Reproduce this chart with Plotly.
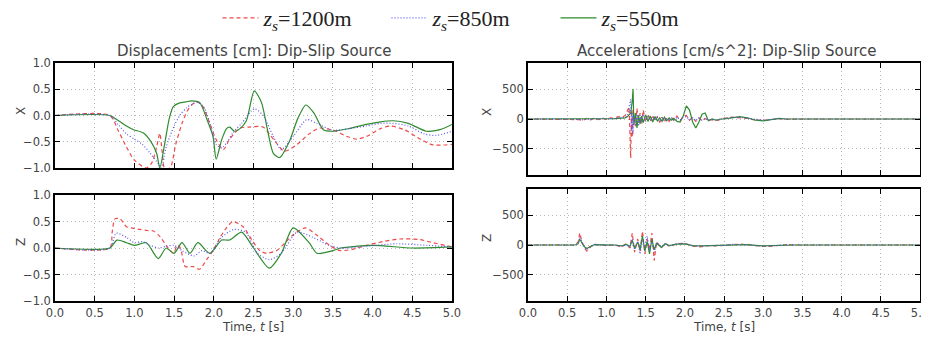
import plotly.graph_objects as go

# The page body adds an 8px offset; the figure is sized so that it fills the 929x339 view.
OFF = 8
W, H = 929 - OFF, 339 - OFF

# ---------------- data: displacements ----------------
disp_x_red_t = [0, 0.69, 0.8, 0.9, 1.0, 1.15, 1.22, 1.28, 1.32, 1.35, 1.38, 1.45, 1.52, 1.6, 1.66, 1.72, 1.78, 1.85, 1.95, 2.03, 2.12, 2.2, 2.33, 2.45, 2.62, 2.75, 2.89, 3.05, 3.2, 3.33, 3.45, 3.54, 3.68, 3.8, 3.95, 4.1, 4.22, 4.4, 4.6, 4.76, 5.0]
disp_x_red_v = [0, 0, -0.3, -0.6, -0.85, -1.0, -0.9, -0.6, -0.34, -0.7, -1.0, -1.0, -0.55, -0.15, 0.07, 0.2, 0.26, 0.2, -0.15, -0.46, -0.65, -0.45, -0.24, -0.22, -0.22, -0.45, -0.68, -0.55, -0.35, -0.24, -0.26, -0.3, -0.4, -0.45, -0.38, -0.25, -0.2, -0.27, -0.45, -0.56, -0.55]

disp_x_blue_t = [0, 0.69, 0.8, 0.9, 1.0, 1.1, 1.2, 1.3, 1.34, 1.4, 1.5, 1.58, 1.66, 1.73, 1.8, 1.88, 1.96, 2.03, 2.1, 2.17, 2.24, 2.35, 2.51, 2.62, 2.75, 2.85, 3.0, 3.17, 3.3, 3.5, 3.7, 3.92, 4.1, 4.26, 4.45, 4.65, 4.8, 5.0]
disp_x_blue_v = [0, 0, -0.18, -0.35, -0.45, -0.55, -0.72, -0.92, -1.0, -0.6, -0.2, 0.02, 0.15, 0.22, 0.25, 0.15, -0.2, -0.55, -0.62, -0.5, -0.33, -0.15, 0.13, 0.0, -0.4, -0.65, -0.4, -0.08, -0.15, -0.28, -0.25, -0.2, -0.15, -0.15, -0.2, -0.35, -0.38, -0.3]

disp_x_green_t = [0, 0.69, 0.8, 0.9, 0.99, 1.11, 1.2, 1.28, 1.32, 1.38, 1.44, 1.49, 1.57, 1.65, 1.72, 1.82, 1.92, 1.99, 2.03, 2.1, 2.16, 2.2, 2.26, 2.33, 2.41, 2.51, 2.6, 2.68, 2.75, 2.83, 2.95, 3.06, 3.16, 3.26, 3.38, 3.5, 3.7, 3.92, 4.1, 4.26, 4.45, 4.68, 4.85, 5.0]
disp_x_green_v = [0, 0, -0.1, -0.2, -0.27, -0.33, -0.48, -0.72, -1.0, -0.55, -0.05, 0.17, 0.24, 0.26, 0.28, 0.25, -0.1, -0.4, -0.83, -0.46, -0.25, -0.22, -0.3, -0.25, -0.1, 0.47, 0.25, -0.3, -0.72, -0.8, -0.5, -0.05, 0.2, 0.05, -0.27, -0.3, -0.25, -0.17, -0.12, -0.1, -0.15, -0.3, -0.27, -0.17]

disp_z_red_t = [0, 0.69, 0.72, 0.755, 0.82, 0.9, 1.0, 1.07, 1.16, 1.24, 1.32, 1.41, 1.49, 1.54, 1.58, 1.64, 1.74, 1.82, 1.91, 1.99, 2.08, 2.16, 2.24, 2.37, 2.48, 2.58, 2.66, 2.79, 2.9, 3.0, 3.15, 3.29, 3.46, 3.59, 3.76, 3.92, 4.13, 4.34, 4.59, 4.76, 5.0]
disp_z_red_v = [0, 0, 0.3, 0.55, 0.55, 0.4, 0.37, 0.35, 0.33, 0.32, 0.22, 0.03, -0.1, 0.05, 0.0, -0.35, -0.35, -0.4, -0.22, -0.05, 0.2, 0.38, 0.5, 0.4, 0.15, -0.05, -0.1, -0.05, 0.1, 0.25, 0.38, 0.25, 0.05, -0.05, -0.02, 0.05, 0.12, 0.17, 0.16, 0.1, 0.02]

disp_z_blue_t = [0, 0.69, 0.77, 0.9, 1.0, 1.1, 1.2, 1.3, 1.4, 1.5, 1.6, 1.75, 1.85, 1.95, 2.1, 2.25, 2.4, 2.55, 2.7, 2.85, 3.05, 3.25, 3.45, 3.6, 3.9, 4.3, 4.7, 5.0]
disp_z_blue_v = [0, 0, 0.28, 0.2, 0.1, 0.12, 0.05, 0.0, 0.03, 0.05, -0.05, -0.15, -0.05, -0.1, 0.2, 0.35, 0.3, -0.1, -0.22, -0.1, 0.3, 0.2, 0.05, 0.0, 0.03, 0.08, 0.05, 0.02]

disp_z_green_t = [0, 0.69, 0.78, 0.9, 1.0, 1.15, 1.3, 1.4, 1.5, 1.6, 1.7, 1.8, 1.95, 2.1, 2.2, 2.35, 2.5, 2.7, 2.85, 3.0, 3.2, 3.3, 3.5, 3.6, 4.0, 4.5, 5.0]
disp_z_green_v = [0, 0, 0.15, 0.1, 0.05, 0.1, -0.2, 0.0, -0.1, 0.1, -0.1, 0.1, -0.1, 0.15, 0.15, 0.3, 0.0, -0.38, -0.1, 0.38, 0.1, -0.1, -0.05, 0.0, 0.05, 0.0, 0.02]

# ---------------- data: accelerations ----------------
acc_x_t = [0, 0.6, 0.65, 0.7, 0.75, 0.8, 0.85, 0.9, 0.95, 1.0, 1.05, 1.1, 1.15, 1.2, 1.24, 1.27, 1.29, 1.31, 1.32, 1.33, 1.34, 1.35, 1.37, 1.39, 1.41, 1.43, 1.45, 1.47, 1.5, 1.53, 1.56, 1.59, 1.62, 1.65, 1.68, 1.71, 1.74, 1.77, 1.8, 1.83, 1.86, 1.9, 1.94, 1.98, 2.02, 2.06, 2.1, 2.14, 2.18, 2.22, 2.26, 2.3, 2.35, 2.4, 2.45, 2.5, 2.6, 2.7, 2.8, 2.9, 3.0, 3.1, 3.2, 3.3, 3.4, 3.5, 5.0]
acc_x_red = [0, 0, -10, -25, 10, -15, 20, -10, 15, -5, 20, 10, 40, 30, 60, 150, 200, -650, 150, -300, 180, 60, -120, 180, -60, 100, -80, 150, -50, 80, -40, 60, -30, 40, -60, 30, -50, 20, -40, 30, -20, 50, -30, 40, 60, -20, 30, -40, 20, -30, 10, -20, -10, -30, -10, 10, 30, 25, 10, -15, -25, -10, 5, -5, 0, 0, 0]
acc_x_blue = [0, 0, -5, -15, 5, -10, 10, -5, 10, -5, 10, 5, 20, 15, 40, 50, 200, 330, -200, 100, -250, 50, -100, 80, -120, 60, -60, 80, -40, 50, -30, 40, -20, 30, -40, 20, -30, 15, -30, 20, -15, 30, -20, 30, 40, -15, 20, -30, 15, -20, 10, -15, -10, -20, -10, 10, 25, 30, 10, -10, -20, -10, 5, 0, 0, 0, 0]
acc_x_green = [0, 0, 0, -5, 5, -5, 5, -5, 5, 0, 5, 5, 10, 10, 20, 40, 80, 100, 200, 300, 500, -100, 100, -150, 60, -80, 50, -60, 70, -40, 50, -50, 40, -30, 20, -40, 30, -30, 20, -20, 10, -40, -50, 50, 220, 150, -50, -150, -50, 80, 100, -30, 0, -20, 0, 0, 20, 40, 20, -20, -30, -10, 10, 0, 0, 0, 0]

acc_z_t = [0, 0.6, 0.64, 0.66, 0.69, 0.72, 0.75, 0.8, 0.85, 0.9, 1.0, 1.1, 1.2, 1.25, 1.3, 1.33, 1.36, 1.4, 1.43, 1.46, 1.49, 1.52, 1.55, 1.58, 1.61, 1.64, 1.7, 1.75, 1.8, 1.9, 2.0, 2.1, 2.2, 2.3, 2.4, 2.5, 2.6, 2.7, 2.8, 2.9, 3.0, 3.1, 3.2, 3.3, 3.4, 5.0]
acc_z_red = [0, 0, 50, 200, 50, -50, -100, -30, 10, 0, -10, 0, -30, 20, -50, 200, -120, 100, -100, 230, -150, 100, -80, 200, -260, 50, -50, 30, -20, 20, 30, -20, -30, -10, -15, -5, 10, 15, 5, -10, -25, -20, -5, 5, 0, 0]
acc_z_blue = [0, 0, 30, 130, 40, -40, -80, -20, 10, 5, -5, 0, -20, 10, -30, 100, -80, 60, -150, 100, -60, 150, -100, 80, -120, 40, -30, 20, -15, 20, 25, -15, -20, -10, -10, -5, 10, 10, 5, -10, -20, -15, -5, 5, 0, 0]
acc_z_green = [0, 0, 20, 100, 30, -30, -60, -20, 5, 5, -5, 0, -15, 10, -20, 80, -60, 50, -80, 150, -100, 60, -150, 100, -80, 30, -40, 20, -10, 15, 20, -10, -15, -10, -10, -5, 5, 10, 5, -5, -15, -10, -5, 0, 0, 0]

labels = ["<i>z</i><sub><i>s</i></sub>=1200m", "<i>z</i><sub><i>s</i></sub>=850m", "<i>z</i><sub><i>s</i></sub>=550m"]
colors = ["#f04848", "#5858f0", "#2e8b2e"]
dashes = ["4px,3px", "1px,2px", "solid"]

x_ticks = [0.0, 0.5, 1.0, 1.5, 2.0, 2.5, 3.0, 3.5, 4.0, 4.5, 5.0]

fig = go.Figure()

panels = [
    ("x", "y", [(disp_x_red_t, disp_x_red_v), (disp_x_blue_t, disp_x_blue_v), (disp_x_green_t, disp_x_green_v)], True),
    ("x2", "y2", [(disp_z_red_t, disp_z_red_v), (disp_z_blue_t, disp_z_blue_v), (disp_z_green_t, disp_z_green_v)], True),
    ("x3", "y3", [(acc_x_t, acc_x_red), (acc_x_t, acc_x_blue), (acc_x_t, acc_x_green)], False),
    ("x4", "y4", [(acc_z_t, acc_z_red), (acc_z_t, acc_z_blue), (acc_z_t, acc_z_green)], False),
]

draw_order = [0, 2, 1]
for pi, (xa, ya, series, smooth) in enumerate(panels):
    for si in draw_order:
        t, v = series[si]
        assert len(t) == len(v), (pi, si, len(t), len(v))
        line = dict(color=colors[si], dash=dashes[si], width=1.2)
        if smooth:
            line.update(shape="spline", smoothing=0.7)
        fig.add_trace(go.Scatter(
            x=t, y=v, mode="lines", xaxis=xa, yaxis=ya, line=line,
            name=labels[si], showlegend=(pi == 0), legendrank=si + 1,
        ))

# reference pixel coordinates (screen) -> figure coordinates
# plot area in screen pixels: x 55..920, y 63..301
S_L, S_R, S_T, S_B = 55, 920, 63, 301
ML, MT = S_L - OFF, S_T - OFF
MR, MB = W - (S_R - OFF), H - (S_B - OFF)
PW, PH = W - ML - MR, H - MT - MB

def fx(px):
    return (px - OFF - ML) / PW

def fy(py):
    return (H - MB - (py - OFF)) / PH

def px_x(a, b):
    return [max(0.0, fx(a)), min(1.0, fx(b))]

def px_y(top, bottom):
    return [max(0.0, fy(bottom)), min(1.0, fy(top))]

tickfont = dict(family="DejaVu Sans", size=11.5, color="#444444")

def common():
    return dict(ticks="inside", ticklen=5, tickcolor="black", showline=True, linecolor="black",
                linewidth=1.5, mirror="ticks", showgrid=True, gridcolor="#b8b8b8", griddash="1px,3px",
                gridwidth=1, zeroline=False, tickfont=tickfont, automargin=False,
                ticklabeloverflow="allow")

def xaxis(dom, anchor, labels_on):
    d = dict(domain=dom, anchor=anchor, range=[0, 5], tickvals=x_ticks,
             ticktext=[f"{v:.1f}" for v in x_ticks], showticklabels=labels_on)
    d.update(common())
    return d

def yaxis(dom, anchor, rng, vals, fmt):
    d = dict(domain=dom, anchor=anchor, range=rng, tickvals=vals,
             ticktext=[fmt(v) for v in vals])
    d.update(common())
    return d

def fmt1(v):
    s = f"{abs(v):.1f}"
    return ("\u2212" + s) if v < 0 else s

def fmt0(v):
    s = f"{abs(v):d}"
    return ("\u2212" + s) if v < 0 else s

disp_ticks = [-1.0, -0.5, 0.0, 0.5, 1.0]
acc_ticks = [-500, 0, 500]

fig.update_layout(
    width=W, height=H, margin=dict(l=ML, r=MR, t=MT, b=MB, pad=0),
    paper_bgcolor="white", plot_bgcolor="white",
    xaxis=xaxis(px_x(55, 452), "y", False),
    yaxis=yaxis(px_y(63, 168), "x", [-1, 1], disp_ticks, fmt1),
    xaxis2=xaxis(px_x(55, 452), "y2", True),
    yaxis2=yaxis(px_y(195, 301), "x2", [-1, 1], disp_ticks, fmt1),
    xaxis3=xaxis(px_x(528, 920), "y3", False),
    yaxis3=yaxis(px_y(63, 175), "x3", [-935, 935], acc_ticks, fmt0),
    xaxis4=xaxis(px_x(528, 920), "y4", True),
    yaxis4=yaxis(px_y(189, 301), "x4", [-935, 935], acc_ticks, fmt0),
    showlegend=True,
    legend=dict(orientation="h", xref="container", yref="container",
                x=(471 - OFF) / W, xanchor="center", y=1 - (18 - OFF) / H, yanchor="middle",
                font=dict(family="Liberation Serif", size=22, color="#222222"),
                bgcolor="rgba(0,0,0,0)", itemwidth=36, tracegroupgap=0,
                entrywidth=118, entrywidthmode="pixels"),
)

def ann(text, xp, yp, size=12, angle=0, family="DejaVu Sans"):
    fig.add_annotation(text=text, x=fx(xp), y=fy(yp), xref="paper", yref="paper",
                       showarrow=False, textangle=angle,
                       font=dict(family=family, size=size, color="#444444"),
                       xanchor="center", yanchor="middle")

ann("Displacements [cm]: Dip-Slip Source", 254, 51, 15)
ann("Accelerations [cm/s^2]: Dip-Slip Source", 726, 51, 15)
ann("X", 21, 111, 12, -90)
ann("Z", 21, 242, 12, -90)
ann("X", 487, 112, 12, -90)
ann("Z", 487, 238, 12, -90)
ann("Time, <i>t</i> [s]", 253, 327, 12)
ann("Time, <i>t</i> [s]", 724, 327, 12)

fig.write_html("out.html")
